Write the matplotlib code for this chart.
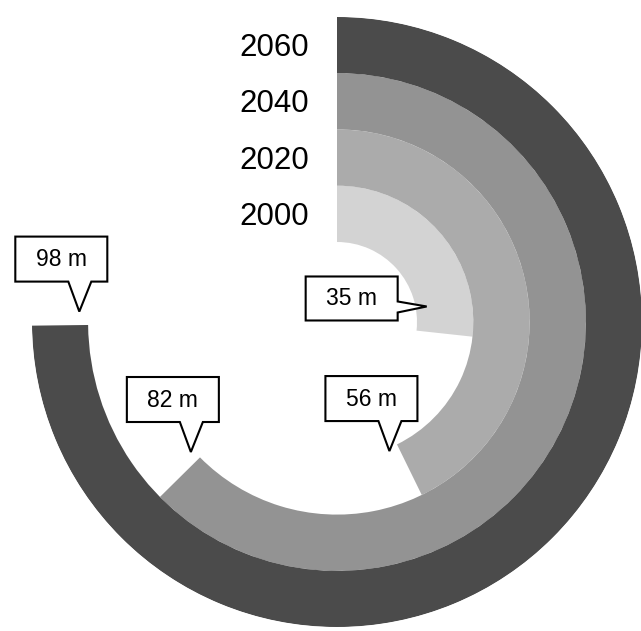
import numpy as np
import matplotlib.pyplot as plt
from matplotlib.patches import Polygon
from matplotlib.transforms import Affine2D

years = ['2000', '2020', '2040', '2060']
values = [35, 56, 82, 98]
labels = ['35 m', '56 m', '82 m', '98 m']
colors = ['#d3d3d3', '#ababab', '#939393', '#4b4b4b']

scale_max = 131.0   # value that would make a full circle
inner = 80
width = 56.3

fig = plt.figure(figsize=(6.41, 6.31), dpi=100)
ax = fig.add_axes([32 / 641, 4 / 631, 610 / 641, 610 / 631], projection='polar')
ax.set_theta_zero_location('N')
ax.set_theta_direction(-1)
ax.set_ylim(0, 305)
ax.axis('off')

bottoms = [inner + i * width for i in range(len(values))]
angles = [np.deg2rad(v / scale_max * 360) for v in values]
for a, b, c in zip(angles, bottoms, colors):
    ax.bar(0, width, width=a, bottom=b, align='edge', color=c, edgecolor='none')

for y, b in zip(years, bottoms):
    ax.annotate(y, xy=(0, b + width / 2), xytext=(-28, -3), textcoords='offset pixels',
                ha='right', va='center', fontsize=22.5, family='Liberation Sans')

fig.canvas.draw()

# callout shapes in pixels, tip at (0, 0)
down = [(0, 0), (12, 30), (28, 30), (28, 75), (-64, 75), (-64, 30), (-11, 30)]
right = [(0, 0), (-29, -6), (-29, -14), (-121, -14), (-121, 30), (-29, 30), (-29, 5)]
callouts = [(-16, 11, right, (-75, 8)),
            (4, 3, down, (-18, 52)),
            (3, 3, down, (-18, 52)),
            (3, 9, down, (-18, 52))]

for a, b, lab, (dth, dr, shape, tpos) in zip(angles, bottoms, labels, callouts):
    tx, ty = ax.transData.transform((a + np.deg2rad(dth), b + dr))
    tr = Affine2D().translate(tx, ty)
    poly = Polygon(shape, closed=True, facecolor='white', edgecolor='black',
                   linewidth=1.5, transform=tr, zorder=5)
    fig.add_artist(poly)
    fig.text(tx + tpos[0], ty + tpos[1], lab, transform=None, ha='center', va='center',
             fontsize=16.5, family='Liberation Sans', zorder=6)

fig.savefig('out.png', dpi=100)
